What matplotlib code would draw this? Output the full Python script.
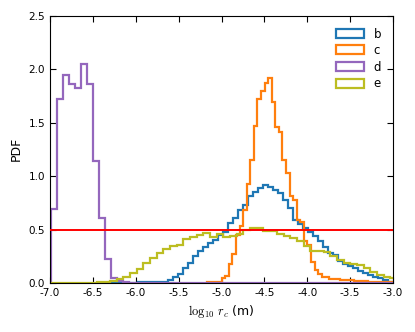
import numpy as np
import matplotlib
matplotlib.use("Agg")
import matplotlib.pyplot as plt

# datos (PDF por bin)
# b (azul)
b_inicio = -6.32
b_ancho = 0.0583
b_vals = [0.0, 0.0, 0.0, 0.002, 0.003, 0.004, 0.005, 0.006, 0.008, 0.01,
          0.012, 0.012, 0.028, 0.059, 0.081, 0.137, 0.184, 0.253, 0.30, 0.34,
          0.37, 0.40, 0.45, 0.48, 0.56, 0.61, 0.68, 0.73, 0.81, 0.85,
          0.89, 0.92, 0.90, 0.87, 0.84, 0.78, 0.70, 0.59, 0.55, 0.51,
          0.48, 0.44, 0.39, 0.34, 0.28, 0.26, 0.21, 0.18, 0.16, 0.137,
          0.115, 0.096, 0.075, 0.059, 0.044, 0.028, 0.012]

# c (naranja)
c_inicio = -5.165
c_ancho = 0.0417
c_vals = [0.01, 0.01, 0.01, 0.01,
          0.05, 0.07, 0.18, 0.27, 0.45, 0.53, 0.68, 0.93, 1.15, 1.47,
          1.72, 1.80, 1.87, 1.915, 1.69, 1.46, 1.415, 1.15, 1.03, 0.81,
          0.78, 0.59, 0.57, 0.39, 0.355, 0.20, 0.12, 0.084, 0.053, 0.053,
          0.037, 0.037, 0.037, 0.028, 0.028, 0.028, 0.028, 0.019, 0.019, 0.019,
          0.019, 0.01, 0.01, 0.01, 0.01, 0.01, 0.01, 0.01]

# d (morado)
d_inicio = -6.993
d_ancho = 0.0707
d_vals = [0.69, 1.72, 1.95, 1.86, 1.82, 2.05, 1.86, 1.14, 0.605, 0.22,
          0.05, 0.02, 0.01] + [0.0] * 45

# e (oliva)
e_inicio = -7.0
e_ancho = 0.0778
e_vals = [0.0, 0.0, 0.0, 0.0, 0.0, 0.0, 0.0, 0.01, 0.01,
          0.019, 0.034, 0.059, 0.09, 0.13, 0.184, 0.23, 0.28, 0.315, 0.346,
          0.355, 0.41, 0.43, 0.449, 0.465, 0.43, 0.458, 0.43, 0.44, 0.46,
          0.50, 0.51, 0.51, 0.49, 0.49, 0.455, 0.44, 0.418, 0.39, 0.35,
          0.30, 0.30, 0.293, 0.25, 0.215, 0.19, 0.178, 0.17, 0.14, 0.106,
          0.075, 0.06, 0.044]

etiquetas = ["b", "c", "d", "e"]
colores = ["#1f77b4", "#ff7f0e", "#9467bd", "#bcbd22"]
linea_roja = 0.5

series = [(b_inicio, b_ancho, b_vals), (c_inicio, c_ancho, c_vals),
          (d_inicio, d_ancho, d_vals), (e_inicio, e_ancho, e_vals)]

plt.rcParams["mathtext.fontset"] = "cm"
plt.rcParams["xtick.direction"] = "in"
plt.rcParams["ytick.direction"] = "in"
plt.rcParams["xtick.top"] = True
plt.rcParams["ytick.right"] = True

fig = plt.figure(figsize=(4.15, 3.32), dpi=100)
ax = fig.add_axes([0.1205, 0.1476, 0.8265, 0.8051])

for (inicio, ancho, vals), etiqueta, color in zip(series, etiquetas, colores):
    bordes = inicio + ancho * np.arange(len(vals) + 1)  # bordes de los bins
    ax.hist(bordes[:-1], bins=bordes, weights=vals, histtype="step",
            color=color, linewidth=1.6, label=etiqueta)

ax.axhline(linea_roja, color="red", linewidth=1.4, zorder=5)

ax.set_xlim(-7.0, -3.0)
ax.set_ylim(0, 2.5)
ax.set_xticks(np.arange(-7.0, -2.99, 0.5))
ax.set_yticks(np.arange(0, 2.51, 0.5))
ax.xaxis.set_major_formatter(matplotlib.ticker.FormatStrFormatter("%.1f"))
ax.yaxis.set_major_formatter(matplotlib.ticker.FormatStrFormatter("%.1f"))
ax.tick_params(labelsize=7.5, length=4, width=0.8)

ax.set_xlabel(r"$\log_{10}\,r_c$ (m)", fontsize=9)
ax.set_ylabel("PDF", fontsize=9)

ax.legend(loc="upper right", frameon=False, fontsize=8.5, handlelength=2.4,
          handleheight=0.8, labelspacing=0.3, handletextpad=0.8,
          borderaxespad=0.6)

fig.savefig("out.png", dpi=100)
